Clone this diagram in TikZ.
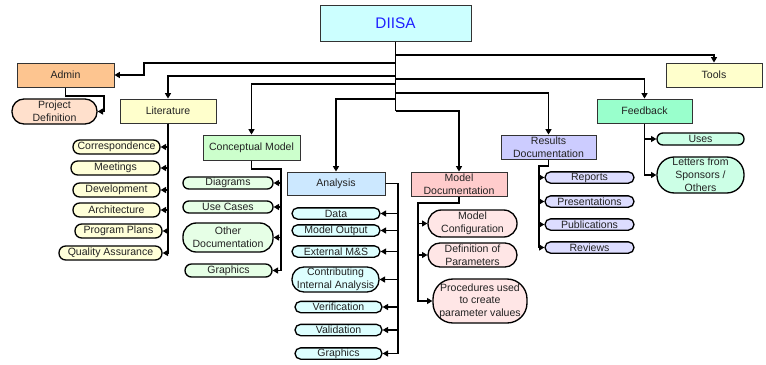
\documentclass[tikz,border=0pt]{standalone}
\usepackage{fontspec}
\setmainfont{Liberation Sans}
\usetikzlibrary{arrows.meta}
\definecolor{boxline}{HTML}{333333}
\definecolor{txt}{HTML}{222222}
\definecolor{diisaF}{HTML}{CCFFFF}
\definecolor{diisaT}{HTML}{1F1FFF}
\definecolor{adminF}{HTML}{FDC590}
\definecolor{pdF}{HTML}{FFE0CC}
\definecolor{litF}{HTML}{FFFFCC}
\definecolor{litC}{HTML}{FFFFD8}
\definecolor{cmF}{HTML}{CCFFCC}
\definecolor{cmC}{HTML}{E6FFE6}
\definecolor{anF}{HTML}{CCE8FF}
\definecolor{anC}{HTML}{DDFFFF}
\definecolor{mdF}{HTML}{FFCCCC}
\definecolor{mdC}{HTML}{FFE6E6}
\definecolor{rdF}{HTML}{CCCCFF}
\definecolor{rdC}{HTML}{DDDDFF}
\definecolor{fbF}{HTML}{99FFCC}
\definecolor{fbC}{HTML}{CCFFE6}
\definecolor{toolF}{HTML}{FFFFCC}
\newcommand{\lab}{\fontsize{7.9}{9.75}\selectfont}
\begin{document}
\begin{tikzpicture}[x=0.75pt,y=-0.75pt,
  box/.style={draw=boxline, line width=0.75pt, inner sep=0pt, align=center, font=\lab, text=txt, minimum height=18pt},
  pill/.style={draw=black, line width=1pt, inner sep=0pt, align=center, font=\lab, text=txt},
  conn/.style={draw=black, line width=0.8pt},
  arr/.style={conn, -{Triangle[length=4pt,width=4.5pt]}},
]
\useasboundingbox (0,0) rectangle (766,364);
% main boxes
\node[box, fill=diisaF, text=diisaT, font=\fontsize{11.5}{13}\selectfont, minimum width=113.25pt, minimum height=27pt] (diisa) at (395.5,23) {DIISA};
\node[box, fill=adminF, minimum width=72.75pt] (admin) at (65.5,75) {Admin};
\node[pill, fill=pdF, minimum width=63.75pt, minimum height=18.75pt, rounded corners=9pt] (pd) at (54.5,111.5) {Project\\Definition};
\node[box, fill=litF, minimum width=72pt] (lit) at (168,111) {Literature};
\node[box, fill=toolF, minimum width=72pt] (tools) at (714,75) {Tools};
\node[box, fill=fbF, minimum width=71.25pt] (fb) at (644.5,111) {Feedback};
\node[box, fill=cmF, minimum width=72.75pt, minimum height=18.75pt] (cm) at (251.5,147.5) {Conceptual Model};
\node[box, fill=rdF, minimum width=71.25pt] (rd) at (548.5,147) {Results\\Documentation};
\node[box, fill=anF, minimum width=73.5pt, minimum height=17.25pt] (an) at (336,183.5) {Analysis};
\node[box, fill=mdF, minimum width=72pt] (md) at (459,184) {Model\\Documentation};
% literature children
\begin{scope}[every node/.style={pill, fill=litC, minimum height=10.5pt, rounded corners=5pt}]
\node[minimum width=65.25pt] (l1) at (116.5,147) {Correspondence};
\node[minimum width=66.75pt] (l2) at (115.5,168) {Meetings};
\node[minimum width=65.25pt] (l3) at (116.5,190) {Development};
\node[minimum width=65.25pt] (l4) at (116.5,210) {Architecture};
\node[minimum width=65.25pt] (l5) at (118.5,231) {Program Plans};
\node[minimum width=77.25pt] (l6) at (110.5,253) {Quality Assurance};
\end{scope}
% conceptual model children
\begin{scope}[every node/.style={pill, fill=cmC}]
\node[minimum width=67.5pt, minimum height=9pt, rounded corners=4.4pt] (c1) at (228,183) {Diagrams};
\node[minimum width=67.5pt, minimum height=9pt, rounded corners=4.4pt] (c2) at (228,207) {Use Cases};
\node[minimum width=67.5pt, minimum height=21.75pt, rounded corners=10pt] (c3) at (228,237.5) {Other\\Documentation};
\node[minimum width=65.25pt, minimum height=9.75pt, rounded corners=4.8pt] (c4) at (228.5,270.5) {Graphics};
\end{scope}
% analysis children
\begin{scope}[every node/.style={pill, fill=anC, minimum height=8.5pt, rounded corners=4.2pt}]
\node[minimum width=66pt] (a1) at (336,213.5) {Data};
\node[minimum width=66pt] (a2) at (336,230.5) {Model Output};
\node[minimum width=66pt] (a3) at (336,251.5) {External M\&S};
\node[minimum width=65.25pt, minimum height=18.75pt, rounded corners=9pt] (a4) at (335.5,279.5) {Contributing\\Internal Analysis};
\node[minimum width=65.25pt] (a5) at (338.5,307) {Verification};
\node[minimum width=65.25pt] (a6) at (338.5,330) {Validation};
\node[minimum width=65.25pt] (a7) at (338.5,353.5) {Graphics};
\end{scope}
% model documentation children
\begin{scope}[every node/.style={pill, fill=mdC}]
\node[minimum width=66.75pt, minimum height=20.25pt, rounded corners=10pt] (m1) at (472.5,223.5) {Model\\Configuration};
\node[minimum width=66.75pt, minimum height=18pt, rounded corners=9pt] (m2) at (472.5,255) {Definition of\\Parameters};
\node[minimum width=70.5pt, minimum height=33pt, rounded corners=15pt, font=\fontsize{7.9}{9.4}\selectfont] (m3) at (480,301) {Procedures used\\to create\\parameter values};
\end{scope}
% results children
\begin{scope}[every node/.style={pill, fill=rdC, minimum width=66.75pt, minimum height=8.5pt, rounded corners=4.2pt}]
\node (r1) at (589.5,177.5) {Reports};
\node (r2) at (589.5,201.5) {Presentations};
\node (r3) at (589.5,224.5) {Publications};
\node (r4) at (589.5,247.5) {Reviews};
\end{scope}
% feedback children
\node[pill, fill=fbC, minimum width=65.25pt, minimum height=9pt, rounded corners=4.4pt] (f1) at (700.5,139) {Uses};
\node[pill, fill=fbC, minimum width=65.25pt, minimum height=27pt, rounded corners=13pt] (f2) at (700.5,175) {Letters from\\Sponsors /\\Others};
% trunk
\coordinate (jTools) at (395.5,55);
\coordinate (jAdmin) at (395.5,63);
\coordinate (jLit) at (395.5,76);
\coordinate (jFb) at (395.5,79);
\coordinate (jCm) at (395.5,84);
\coordinate (jRd) at (395.5,93);
\coordinate (jAn) at (395.5,99);
\coordinate (jMd) at (395.5,111);
\draw[conn, line width=1.3pt] (diisa.south) -- (jAn);
\draw[conn] (jAn) -- (jMd);
\draw[arr] (jTools) -| (tools.north);
\draw[arr] (jAdmin) -- (144,63) |- (admin.east);
\draw[arr] (jLit) -| (lit.north);
\draw[arr] (jFb) -| (fb.north);
\draw[arr] (jCm) -| (cm.north);
\draw[arr] (jRd) -| (rd.north);
\draw[arr] (jAn) -| (an.north);
\draw[arr] (jMd) -| (md.north);
% admin
\draw[arr] (admin.south) |- (104,96) |- (pd.east);
% literature
\foreach \c in {l1,l2,l3,l4,l5,l6} \draw[arr, line width=1pt] (lit.south) |- (\c.east);
% conceptual
\foreach \c in {c1,c2,c3,c4} \draw[arr] (cm.south) |- (281,169) |- (\c.east);
% analysis
\foreach \c in {a1,a2,a3,a4,a5,a6,a7} \draw[arr] (an.east) -- (398,183.5) |- (\c.east);
% model doc
\foreach \c in {m1,m2,m3} \draw[arr] (md.south) |- (418,203) |- (\c.west);
% results
\foreach \c in {r1,r2,r3,r4} \draw[arr] (rd.south) |- (539,166) |- (\c.west);
% feedback
\foreach \c in {f1,f2} \draw[arr] (fb.south) |- (\c.west);
\end{tikzpicture}
\end{document}
